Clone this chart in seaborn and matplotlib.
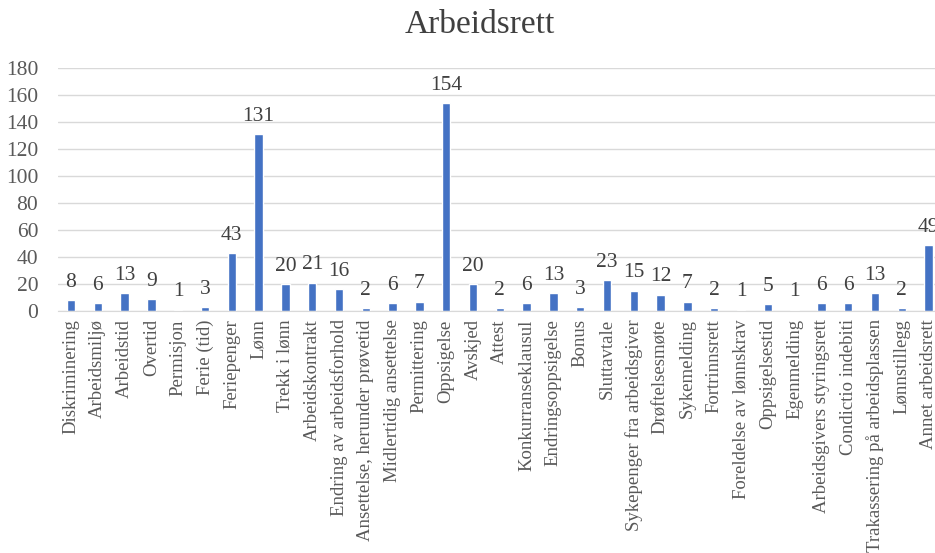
import matplotlib
matplotlib.use("Agg")
import matplotlib.pyplot as plt
import seaborn as sns
import pandas as pd

# categories and counts
categories = [
    "Diskriminering", "Arbeidsmiljø", "Arbeidstid", "Overtid", "Permisjon",
    "Ferie (tid)", "Feriepenger", "Lønn", "Trekk i lønn", "Arbeidskontrakt",
    "Endring av arbeidsforhold", "Ansettelse, herunder prøvetid",
    "Midlertidig ansettelse", "Permittering", "Oppsigelse", "Avskjed", "Attest",
    "Konkurranseklausul", "Endringsoppsigelse", "Bonus", "Sluttavtale",
    "Sykepenger fra arbeidsgiver", "Drøftelsesmøte", "Sykemelding",
    "Fortrinnsrett", "Foreldelse av lønnskrav", "Oppsigelsestid", "Egenmelding",
    "Arbeidsgivers styringsrett", "Condictio indebiti",
    "Trakassering på arbeidsplassen", "Lønnstillegg", "Annet arbeidsrett",
]
counts = [8, 6, 13, 9, 1, 3, 43, 131, 20, 21, 16, 2, 6, 7, 154, 20, 2, 6, 13,
          3, 23, 15, 12, 7, 2, 1, 5, 1, 6, 6, 13, 2, 49]
yticks = [0, 20, 40, 60, 80, 100, 120, 140, 160, 180]

df = pd.DataFrame({"kategori": categories, "antall": counts})

sns.set_style("white")
plt.rcParams["font.family"] = ["Liberation Serif", "DejaVu Serif"]
text_col = "#595959"
bar_col = "#4472C4"

fig = plt.figure(figsize=(9.35, 5.53), dpi=100)
n = len(categories)
step = 26.8
ax = fig.add_axes([57.6 / 935, 1 - 311 / 553, n * step / 935, (311 - 68) / 553])

sns.barplot(data=df, x="kategori", y="antall", color=bar_col, width=0.32,
            saturation=1, ax=ax)

ax.set_ylim(0, 180)
ax.set_xlim(-0.5, n - 0.5)
ax.set_yticks(yticks)
ax.yaxis.grid(True, color="#d9d9d9", linewidth=1)
ax.set_axisbelow(True)
for s in ["top", "right", "left"]:
    ax.spines[s].set_visible(False)
ax.spines["bottom"].set_color("#d9d9d9")
ax.tick_params(axis="y", length=0, colors=text_col, labelsize=15.5, pad=14)
ax.tick_params(axis="x", length=0, colors=text_col, labelsize=13.5, pad=6)
plt.setp(ax.get_xticklabels(), rotation=90)
ax.set_xlabel("")
ax.set_ylabel("")

for i, v in enumerate(counts):
    ax.annotate(str(v), (i, v), xytext=(0, 6), textcoords="offset points",
                ha="center", va="bottom", fontsize=15.5, color="#404040",
                annotation_clip=False)

fig.text(480 / 935, 1 - 25 / 553, "Arbeidsrett", ha="center", va="center",
         fontsize=24, color="#404040")

fig.savefig("out.png", dpi=100)
